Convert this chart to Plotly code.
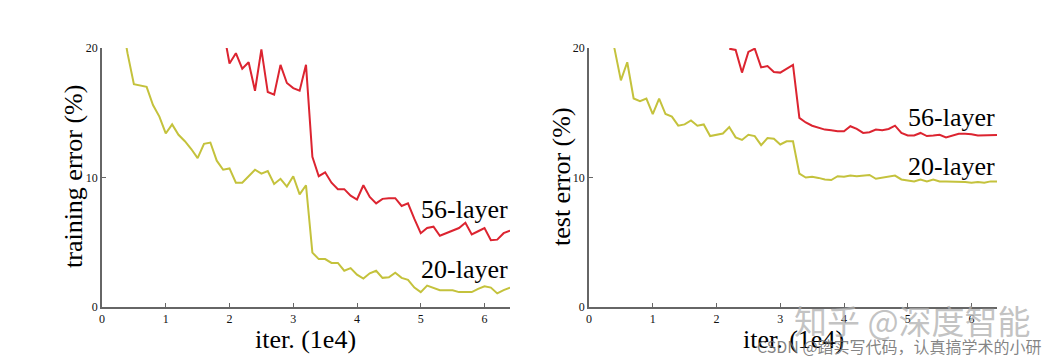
import numpy as np
import plotly.graph_objects as go

# ---------------- data (iterations in units of 1e4) ----------------
train20_x = np.round(np.arange(0.3, 6.41, 0.1), 1)
train20_y = [22.5, 19.6, 17.2, 17.1, 17.0, 15.6, 14.7, 13.4, 14.1, 13.3,
             12.8, 12.2, 11.5, 12.6, 12.7, 11.3, 10.6, 10.7, 9.6, 9.6,
             10.1, 10.6, 10.3, 10.5, 9.5, 9.9, 9.3, 10.1, 8.7, 9.4,
             4.2, 3.7, 3.7, 3.4, 3.4, 2.8, 3.0, 2.5, 2.2, 2.6,
             2.8, 2.25, 2.3, 2.65, 2.25, 2.1, 1.5, 1.15, 1.65, 1.5,
             1.3, 1.3, 1.3, 1.15, 1.15, 1.15, 1.4, 1.6, 1.5, 1.05,
             1.3, 1.5]

train56_x = np.round(np.arange(1.9, 6.41, 0.1), 1)
train56_y = [21.5, 18.8, 19.6, 18.4, 18.9, 16.7, 19.9, 16.6, 16.4, 18.7,
             17.3, 16.9, 16.7, 18.7, 11.6, 10.1, 10.4, 9.6, 9.1, 9.1,
             8.6, 8.3, 9.4, 8.5, 8.0, 8.35, 8.4, 8.4, 7.8, 8.0,
             6.8, 5.7, 6.1, 6.2, 5.5, 5.7, 5.9, 6.1, 6.5, 5.6,
             5.85, 6.1, 5.15, 5.2, 5.7, 5.9]

test20_x = np.round(np.arange(0.3, 6.41, 0.1), 1)
test20_y = [23.0, 19.95, 17.5, 18.9, 16.1, 15.9, 16.1, 14.9, 16.1, 14.9,
            14.7, 14.0, 14.1, 14.4, 14.0, 14.1, 13.2, 13.3, 13.4, 13.9,
            13.1, 12.9, 13.3, 13.2, 12.5, 13.05, 13.0, 12.55, 12.8, 12.8,
            10.3, 10.0, 10.05, 9.97, 9.85, 9.8, 10.1, 10.05, 10.15, 10.1,
            10.15, 10.2, 9.9, 9.97, 10.05, 10.15, 9.85, 9.8, 9.7, 9.85,
            9.7, 9.85, 9.7, 9.7, 9.7, 9.65, 9.65, 9.6, 9.65, 9.6,
            9.7, 9.7]

test56_x = np.round(np.arange(2.2, 6.41, 0.1), 1)
test56_y = [19.95, 19.85, 18.1, 19.7, 19.95, 18.5, 18.6, 18.15, 18.1, 18.4,
            18.7, 14.6, 14.25, 14.0, 13.85, 13.7, 13.65, 13.57, 13.57, 13.96,
            13.75, 13.44, 13.5, 13.7, 13.65, 13.75, 14.0, 13.44, 13.24, 13.24,
            13.44, 13.2, 13.24, 13.3, 13.1, 13.24, 13.37, 13.37, 13.34, 13.24,
            13.24, 13.29, 13.29]

x_ticks = [0, 1, 2, 3, 4, 5, 6]
y_ticks = [0, 10, 20]
series_names = ["56-layer", "20-layer"]
label_y_train = [7.5, 2.9]
label_y_test = [14.6, 10.85]

RED = "#dc2430"
YEL = "#c4c23c"
FONT = "Liberation Serif"
OFF = 8                      # page body margin
W, H = 1056 - OFF, 362 - OFF


def px(xp):
    return (xp - OFF) / W


def py(yp):
    return 1 - (yp - OFF) / H


fig = go.Figure()
fig.add_trace(go.Scatter(x=train20_x, y=train20_y, mode="lines",
                         line=dict(color=YEL, width=2), xaxis="x", yaxis="y"))
fig.add_trace(go.Scatter(x=train56_x, y=train56_y, mode="lines",
                         line=dict(color=RED, width=2), xaxis="x", yaxis="y"))
fig.add_trace(go.Scatter(x=test20_x, y=test20_y, mode="lines",
                         line=dict(color=YEL, width=2), xaxis="x2", yaxis="y2"))
fig.add_trace(go.Scatter(x=test56_x, y=test56_y, mode="lines",
                         line=dict(color=RED, width=2), xaxis="x2", yaxis="y2"))

ydom = [py(307), py(48)]
axcommon = dict(showline=True, linecolor="#666666", linewidth=1.5, showgrid=False,
                zeroline=False, ticks="inside", ticklen=4, tickcolor="#666666",
                automargin=False,
                tickfont=dict(family=FONT, size=12, color="#111111"))
fig.update_layout(
    width=W, height=H, margin=dict(l=0, r=0, t=0, b=0, autoexpand=False),
    paper_bgcolor="white", plot_bgcolor="white", showlegend=False,
    xaxis=dict(domain=[px(102), px(510)], range=[0, 6.4], tickvals=x_ticks,
               anchor="y", **axcommon),
    yaxis=dict(domain=ydom, range=[0, 20], tickvals=y_ticks, anchor="x", **axcommon),
    xaxis2=dict(domain=[px(589), px(997)], range=[0, 6.4], tickvals=x_ticks,
                anchor="y2", **axcommon),
    yaxis2=dict(domain=ydom, range=[0, 20], tickvals=y_ticks, anchor="x2", **axcommon),
)

tf = dict(family=FONT, size=26, color="black")
ann = []
ann.append(dict(text="training error (%)", x=px(73), y=py(177), xref="paper", yref="paper",
                textangle=-90, showarrow=False, font=tf, xanchor="center", yanchor="middle"))
ann.append(dict(text="test error (%)", x=px(561), y=py(177), xref="paper", yref="paper",
                textangle=-90, showarrow=False, font=tf, xanchor="center", yanchor="middle"))
ann.append(dict(text="iter. (1e4)", x=px(305), y=py(339), xref="paper", yref="paper",
                showarrow=False, font=tf, xanchor="center", yanchor="middle"))
ann.append(dict(text="iter. (1e4)", x=px(793), y=py(339), xref="paper", yref="paper",
                showarrow=False, font=tf, xanchor="center", yanchor="middle"))
for name, yv in zip(series_names, label_y_train):
    ann.append(dict(text=name, x=6.4, y=yv, xref="x", yref="y", showarrow=False,
                    font=tf, xanchor="right", yanchor="middle"))
for name, yv in zip(series_names, label_y_test):
    ann.append(dict(text=name, x=6.4, y=yv, xref="x2", yref="y2", showarrow=False,
                    font=tf, xanchor="right", yanchor="middle"))
# watermarks
ann.append(dict(text="知乎 @深度智能", x=px(912), y=py(320), xref="paper", yref="paper",
                showarrow=False, xanchor="center", yanchor="middle",
                font=dict(family="Noto Sans CJK SC", size=33, color="rgba(175,175,175,0.75)")))
ann.append(dict(text="CSDN @踏实写代码，认真搞学术的小研", x=px(899), y=py(346),
                xref="paper", yref="paper", showarrow=False, xanchor="center", yanchor="middle",
                font=dict(family="Noto Sans CJK SC", size=16, color="rgba(110,110,110,0.85)")))
fig.update_layout(annotations=ann)

fig.write_html("out.html")
